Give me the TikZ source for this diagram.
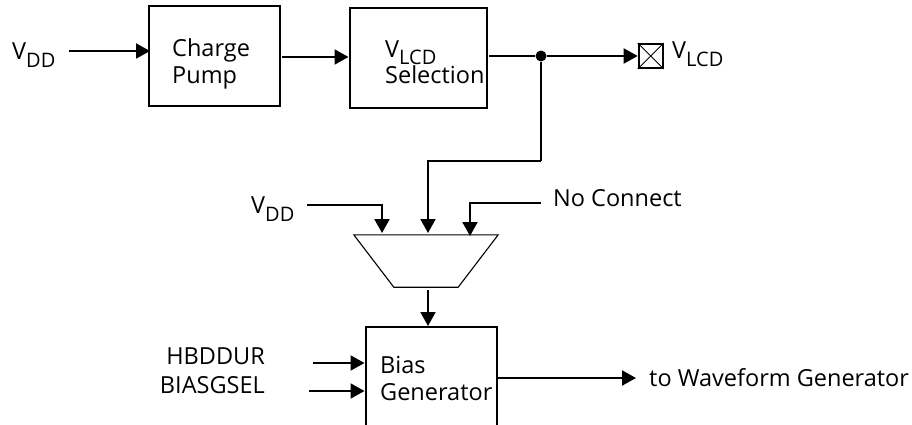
\documentclass[tikz,border=0pt]{standalone}
\usepackage{fontspec}
\setmainfont{Open Sans}
\usepackage{tikz}
\usetikzlibrary{arrows.meta, positioning, calc}
\newcommand{\lowpart}[1]{\raisebox{-0.32em}{\fontsize{20}{20}\selectfont #1}}
\tikzstyle{block} = [rectangle, draw=black, line width=2pt, minimum width=131pt, minimum height=100pt, inner sep=0pt]
\tikzstyle{label} = [inner sep=0pt, font=\fontsize{23.5}{27}\selectfont, align=left]
\tikzstyle{arrow} = [line width=2pt, -{Triangle[length=14pt,width=15pt]}]
\tikzstyle{wire} = [line width=2pt]

\begin{document}
\begin{tikzpicture}[x=1pt, y=-1pt]
    \clip (0,0) rectangle (912,425);

    % Charge pump stage
    \node (charge) [block] at (214,56) {};
    \node (sel) [block, minimum width=137pt, right=68pt of charge, yshift=-2pt] {};
    \node (chargetext) [label, anchor=west] at (172,64) {Charge\\Pump};
    \node (seltext) [label, anchor=west] at (385,62) {V\lowpart{LCD}\\[-1pt]Selection};
    \node (vddin) [label, anchor=west] at (12,55) {V\lowpart{DD}};
    \coordinate (vddstart) at (69,51);
    \coordinate (vddtip) at (150,51);
    \coordinate (chargeout) at (282,57);
    \coordinate (selout) at (489,56);
    \node (dot) [circle, fill=black, inner sep=0pt, minimum size=11pt] at (541,56) {};

    % Output pin
    \node (pin) [rectangle, draw=black, line width=2pt, minimum size=24pt, inner sep=0pt, right=91pt of dot] {};
    \draw [line width=0.8pt] (pin.north west) -- (pin.south east);
    \draw [line width=0.8pt] (pin.south west) -- (pin.north east);
    \node (vlcd) [label, anchor=west] at (672,54) {V\lowpart{LCD}};

    % Selector
    \node (mux) [rectangle, minimum width=144pt, minimum height=52pt, inner sep=0pt] at (426,261) {};
    \draw [line width=1.1pt] (mux.north west) -- (mux.north east) -- ($(mux.south east)+(-40,0)$) -- ($(mux.south west)+(40,0)$) -- cycle;
    \coordinate (muxin1) at (382,233);
    \coordinate (muxin2) at (428,233);
    \coordinate (muxin3) at (470,236);
    \coordinate (muxout) at (428,290);
    \coordinate (tap) at (541,161);
    \node (vddmux) [label, anchor=west] at (251,209) {V\lowpart{DD}};
    \coordinate (vddmuxstart) at (307,205);
    \node (nc) [label, anchor=west] at (553,198) {No Connect};
    \coordinate (ncstart) at (541,203);

    % Bias generator, runs off the bottom edge
    \node (bias) [block, minimum height=130pt, anchor=north west] at (364.5,326) {};
    \node (biastext) [label, anchor=west] at (380,378) {Bias\\Generator};
    \node (hbddur) [label, anchor=east] at (265,356) {HBDDUR};
    \node (biasgsel) [label, anchor=east] at (265,385) {BIASGSEL};
    \coordinate (hbstart) at (313,363);
    \coordinate (bgstart) at (309,391);
    \coordinate (biasout) at (496,378);
    \coordinate (wavetip) at (636,378);
    \node (wave) [label, anchor=west] at (649,378) {to Waveform Generator};

    % Arrows
    \draw [arrow] (vddstart) -- (vddtip);
    \draw [arrow] (chargeout) -- (chargeout -| sel.west);
    \draw [wire] (selout) -- (dot);
    \draw [arrow] (dot) -- (pin);
    \draw [wire] (dot) -- (tap);
    \draw [arrow] (tap) -| (muxin2);
    \draw [arrow] (vddmuxstart) -| (muxin1);
    \draw [arrow] (ncstart) -| (muxin3);
    \draw [arrow] (muxout) -- (muxout |- bias.north);
    \draw [arrow] (hbstart) -- (hbstart -| bias.west);
    \draw [arrow] (bgstart) -- (bgstart -| bias.west);
    \draw [arrow] (biasout) -- (wavetip);

\end{tikzpicture}
\end{document}
